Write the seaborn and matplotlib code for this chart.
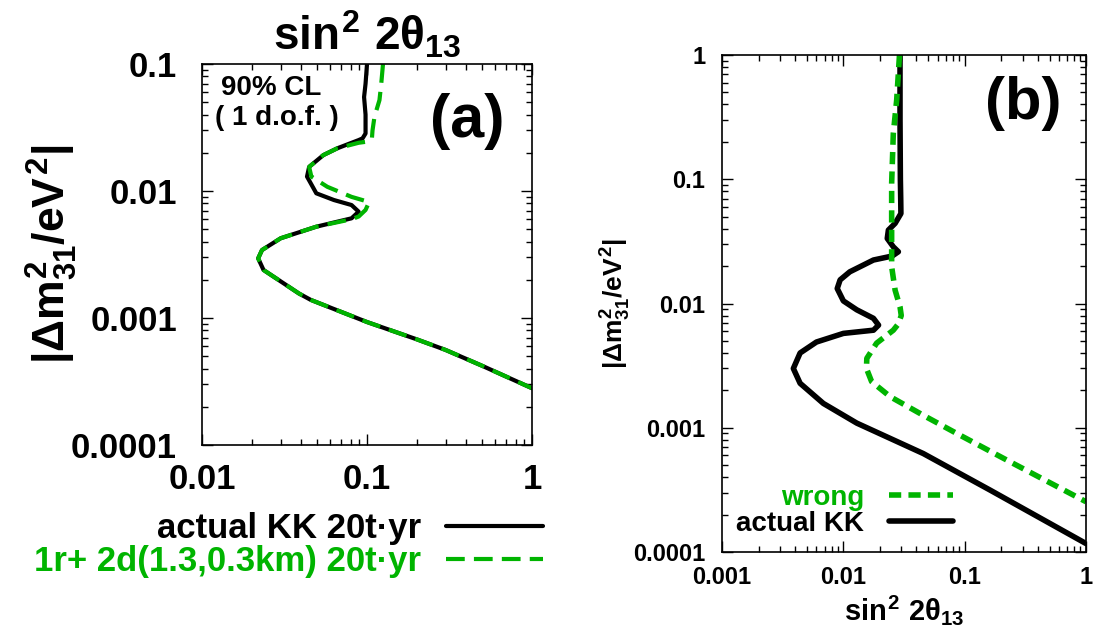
import matplotlib
matplotlib.use('Agg')
import matplotlib.pyplot as plt
import numpy as np
import pandas as pd
import seaborn as sns
from matplotlib.ticker import FixedLocator, FixedFormatter, LogLocator, NullFormatter

GREEN = '#00b400'

# panel (a): 90% CL contours, actual KK vs 1 reactor + 2 detectors
a_actual_s2 = [0.100, 0.098, 0.096, 0.098, 0.098, 0.094, 0.089, 0.066, 0.0544, 0.0446, 0.0433,
               0.0493, 0.063, 0.0806, 0.089, 0.0806, 0.0493, 0.030, 0.0231, 0.0219, 0.0236,
               0.0387, 0.0456, 0.1, 0.2, 0.3, 0.5, 1.0]
a_actual_dm = [0.1, 0.07, 0.055, 0.04, 0.0284, 0.026, 0.0252, 0.0217, 0.0192, 0.0155, 0.0130,
               0.0096, 0.0085, 0.00776, 0.00688, 0.0061, 0.00524, 0.00425, 0.00343, 0.00295, 0.00239,
               0.00156, 0.00139, 0.00093, 0.00068, 0.00056, 0.00042, 0.00028]
a_2d_s2 = [0.125, 0.122, 0.119, 0.111, 0.108, 0.107, 0.100, 0.089, 0.066, 0.0544, 0.0446, 0.046,
           0.0575, 0.0806, 0.103, 0.098, 0.089, 0.0806, 0.0493, 0.030, 0.0231, 0.0219, 0.0236,
           0.0387, 0.0456, 0.1, 0.2, 0.3, 0.5, 1.0]
a_2d_dm = [0.1, 0.07, 0.052, 0.0385, 0.030, 0.0255, 0.0245, 0.0240, 0.0217, 0.0192, 0.0155, 0.013,
           0.0108, 0.0090, 0.0082, 0.0071, 0.0063, 0.0060, 0.00524, 0.00425, 0.00343, 0.00295, 0.00239,
           0.00156, 0.00139, 0.00093, 0.00068, 0.00056, 0.00042, 0.00028]

# panel (b): actual KK vs wrong assumption
b_actual_s2 = [0.0293, 0.0293, 0.0295, 0.0297, 0.0298, 0.0267, 0.0235, 0.0230, 0.0258, 0.0284,
               0.0252, 0.0177, 0.0113, 0.0094, 0.0089, 0.0100, 0.0129, 0.0177, 0.0195, 0.0177,
               0.0100, 0.0060, 0.0044, 0.00387, 0.0044, 0.00684, 0.0129, 0.0456, 0.162, 1.0]
b_actual_dm = [1.0, 0.3, 0.1, 0.068, 0.053, 0.0442, 0.039, 0.0334, 0.0286, 0.0261,
               0.0241, 0.0224, 0.018, 0.0155, 0.0132, 0.0105, 0.0089, 0.0076, 0.0067, 0.0061,
               0.00575, 0.0049, 0.0040, 0.0030, 0.00228, 0.00157, 0.00109, 0.00062, 0.000315, 0.000117]
b_wrong_s2 = [0.029, 0.0275, 0.0258, 0.025, 0.025, 0.025, 0.0267, 0.0293, 0.0300, 0.0282,
              0.0258, 0.0188, 0.0156, 0.0155, 0.0171, 0.0243, 0.0456, 0.086, 0.222, 1.0]
b_wrong_dm = [1.0, 0.434, 0.234, 0.093, 0.0367, 0.0198, 0.0128, 0.0094, 0.0080, 0.0068,
              0.0061, 0.0048, 0.00362, 0.0030, 0.00235, 0.00178, 0.00126, 0.0009, 0.00055, 0.000254]

a_xticks = [0.01, 0.1, 1]
a_xlabels = ['0.01', '0.1', '1']
a_yticks = [0.0001, 0.001, 0.01, 0.1]
a_ylabels = ['0.0001', '0.001', '0.01', '0.1']
b_xticks = [0.001, 0.01, 0.1, 1]
b_xlabels = ['0.001', '0.01', '0.1', '1']
b_yticks = [0.0001, 0.001, 0.01, 0.1, 1]
b_ylabels = ['0.0001', '0.001', '0.01', '0.1', '1']

sns.set_theme(style='ticks')
plt.rcParams['font.family'] = ['Liberation Sans', 'DejaVu Sans']
plt.rcParams['font.weight'] = 'bold'
plt.rcParams['mathtext.fontset'] = 'custom'
plt.rcParams['mathtext.rm'] = 'Liberation Sans:bold'
plt.rcParams['mathtext.it'] = 'Liberation Sans:bold'
plt.rcParams['mathtext.bf'] = 'Liberation Sans:bold'
plt.rcParams['mathtext.sf'] = 'Liberation Sans:bold'
plt.rcParams['axes.linewidth'] = 1.2
plt.rcParams['axes.edgecolor'] = 'black'
plt.rcParams['text.color'] = 'black'
plt.rcParams['axes.labelcolor'] = 'black'
plt.rcParams['xtick.color'] = 'black'
plt.rcParams['ytick.color'] = 'black'


def draw_curve(ax, s2, dm, label, color, lw, dashes=None):
    df = pd.DataFrame({'s2': s2, 'dm': dm})
    kws = {}
    if dashes is not None:
        kws['linestyle'] = (0, dashes)
    sns.lineplot(data=df, x='s2', y='dm', sort=False, estimator=None, color=color,
                 lw=lw, label=label, ax=ax, **kws)


def style_axis(ax, xticks, xlabels, yticks, ylabels, size, xpad, ypad):
    ax.set_xscale('log')
    ax.set_yscale('log')
    ax.set_xlim(xticks[0], xticks[-1])
    ax.set_ylim(yticks[0], yticks[-1])
    ax.xaxis.set_major_locator(FixedLocator(xticks))
    ax.xaxis.set_major_formatter(FixedFormatter(xlabels))
    ax.yaxis.set_major_locator(FixedLocator(yticks))
    ax.yaxis.set_major_formatter(FixedFormatter(ylabels))
    for axis in (ax.xaxis, ax.yaxis):
        axis.set_minor_locator(LogLocator(base=10, subs=np.arange(2, 10)))
        axis.set_minor_formatter(NullFormatter())
    ax.tick_params(which='both', direction='in', top=True, right=True, color='black', width=1)
    ax.tick_params(which='major', length=8)
    ax.tick_params(which='minor', length=4)
    ax.tick_params(axis='x', labelsize=size, pad=xpad, labelcolor='black')
    ax.tick_params(axis='y', labelsize=size, pad=ypad, labelcolor='black')
    for lab in ax.get_xticklabels() + ax.get_yticklabels():
        lab.set_fontweight('bold')


fig = plt.figure(figsize=(10.96, 6.37), dpi=100)
ax_a = fig.add_axes([0.1843, 0.3014, 0.3011, 0.598])
ax_b = fig.add_axes([0.6588, 0.1334, 0.3321, 0.7802])

# panel (a)
draw_curve(ax_a, a_actual_s2, a_actual_dm, 'actual KK 20t\u00b7yr', 'black', 3.0)
draw_curve(ax_a, a_2d_s2, a_2d_dm, '1r+ 2d(1.3,0.3km) 20t\u00b7yr', GREEN, 3.0, dashes=(4.5, 2.2))
style_axis(ax_a, a_xticks, a_xlabels, a_yticks, a_ylabels, 25, 13, 18)
ax_a.set_xlabel('')
ax_a.set_title(r'$sin^2\ 2\theta_{13}$', fontsize=33, pad=10, color='black')
ax_a.set_ylabel(r'$|\Delta m^2_{31}/eV^2|$', fontsize=32, color='black')
ax_a.yaxis.set_label_coords(-0.37, 0.5)
ax_a.text(0.209, 0.937, '90% CL', transform=ax_a.transAxes, ha='center', va='center',
          fontsize=20, fontweight='bold', color='black')
ax_a.text(0.227, 0.858, '( 1 d.o.f. )', transform=ax_a.transAxes, ha='center', va='center',
          fontsize=20, fontweight='bold', color='black')
ax_a.text(0.803, 0.848, '(a)', transform=ax_a.transAxes, ha='center', va='center',
          fontsize=44, fontweight='bold', color='black')
handles, labels = ax_a.get_legend_handles_labels()
leg_a = ax_a.legend(handles, labels, loc='upper right', bbox_to_anchor=(543 / 1096, 1 - 512 / 637),
                    bbox_transform=fig.transFigure, markerfirst=False, frameon=False,
                    prop={'size': 25, 'weight': 'bold'}, handlelength=2.8, handletextpad=0.7,
                    labelspacing=0.0, borderpad=0, borderaxespad=0)
for txt, line in zip(leg_a.get_texts(), leg_a.get_lines()):
    txt.set_color(line.get_color())

# panel (b)
draw_curve(ax_b, b_actual_s2, b_actual_dm, 'actual KK', 'black', 4.0)
draw_curve(ax_b, b_wrong_s2, b_wrong_dm, 'wrong', GREEN, 4.0, dashes=(2.2, 1.3))
style_axis(ax_b, b_xticks, b_xlabels, b_yticks, b_ylabels, 17, 10, 12)
ax_b.set_xlabel(r'$sin^2\ 2\theta_{13}$', fontsize=21, va='top', color='black')
ax_b.xaxis.set_label_coords(0.5, -0.082)
ax_b.set_ylabel(r'$|\Delta m^2_{31}/eV^2|$', fontsize=19, color='black')
ax_b.yaxis.set_label_coords(-0.245, 0.5)
ax_b.text(0.827, 0.903, '(b)', transform=ax_b.transAxes, ha='center', va='center',
          fontsize=43, fontweight='bold', color='black')
handles, labels = ax_b.get_legend_handles_labels()
leg_b = ax_b.legend(handles[::-1], labels[::-1], loc='lower right', bbox_to_anchor=(0.635, 0.03),
                    markerfirst=False, frameon=False, prop={'size': 20, 'weight': 'bold'},
                    handlelength=2.3, handletextpad=0.9, labelspacing=0.0, borderpad=0,
                    borderaxespad=0)
for txt, line in zip(leg_b.get_texts(), leg_b.get_lines()):
    txt.set_color(line.get_color())

fig.savefig('out.png', dpi=100)
